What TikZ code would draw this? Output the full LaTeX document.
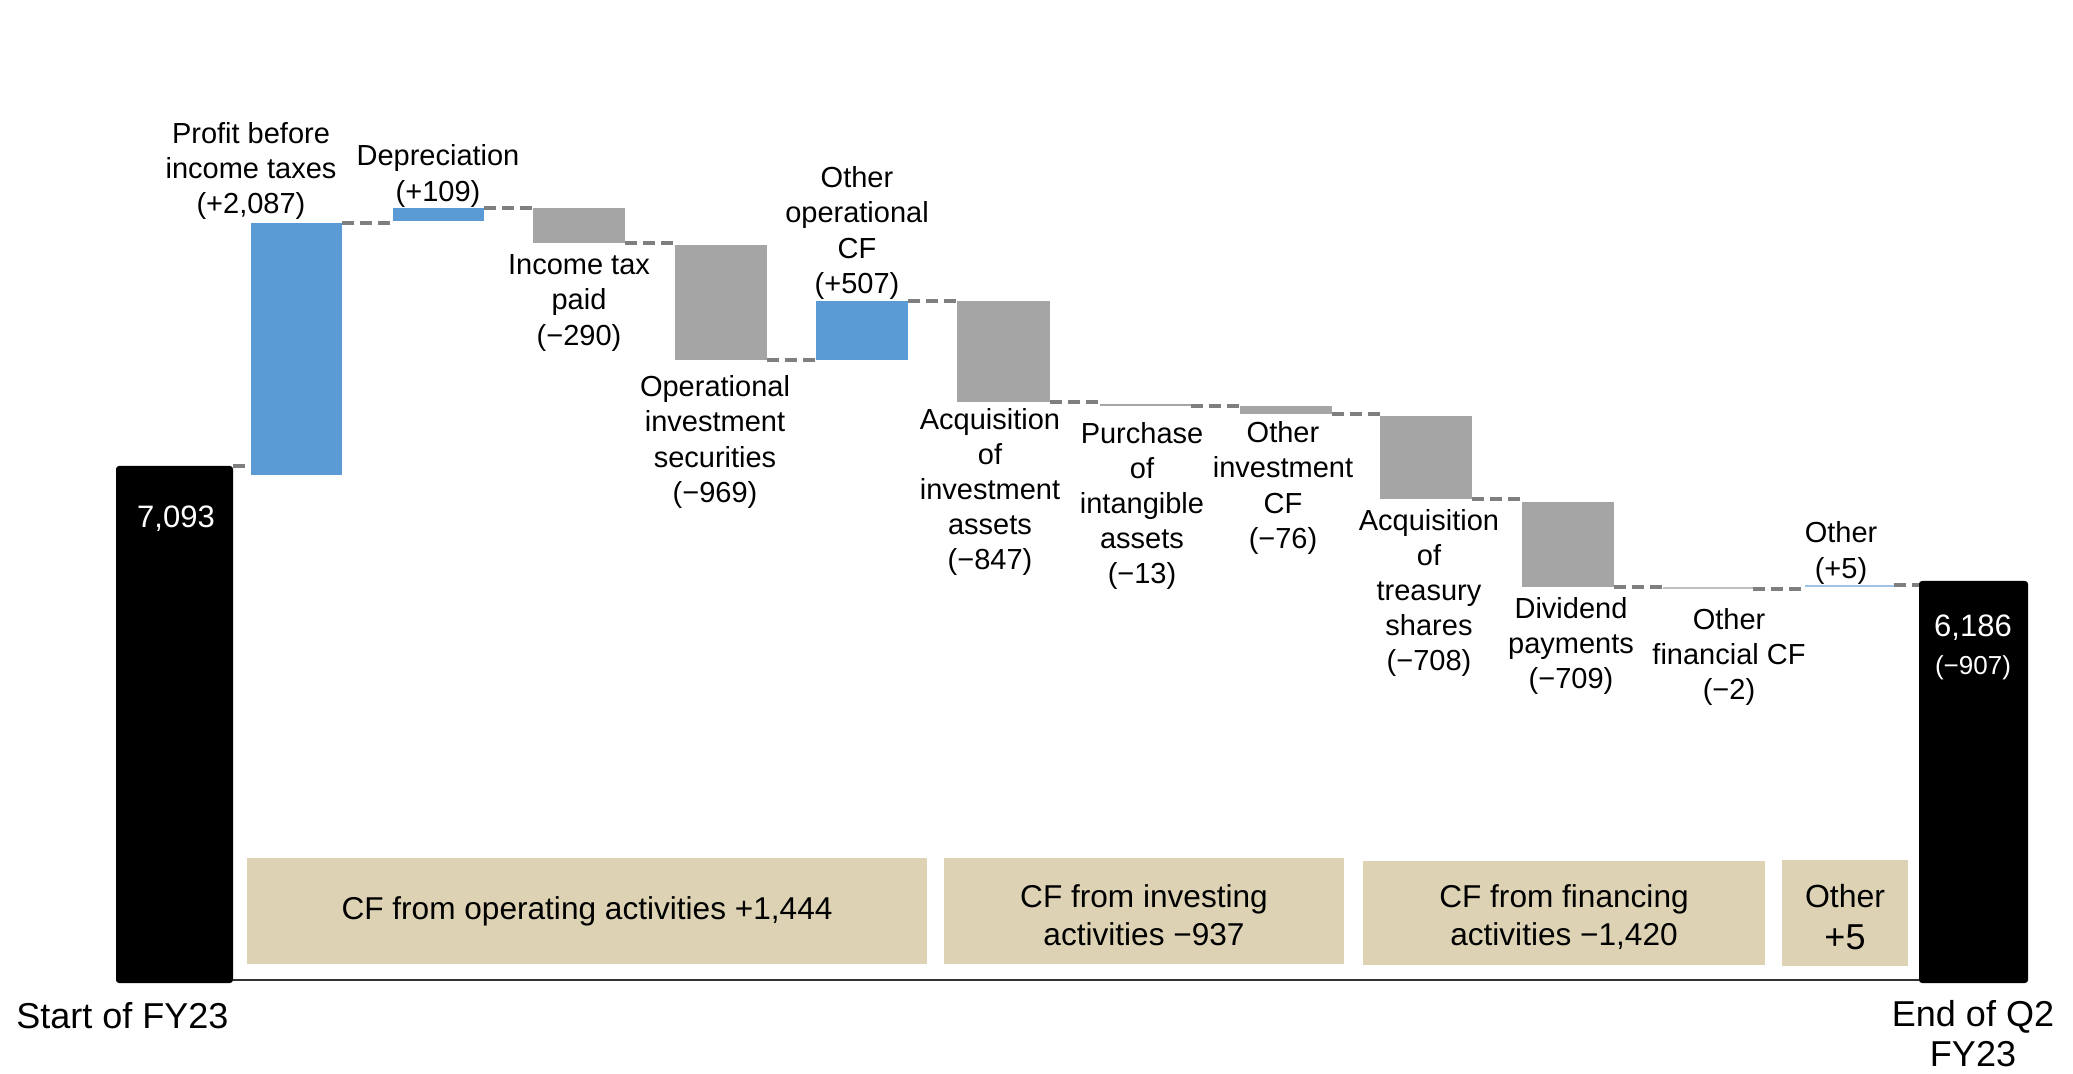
\documentclass[tikz,border=0pt]{standalone}
\usepackage{fontspec}
\setmainfont{Liberation Sans}
\usetikzlibrary{fit}
\definecolor{barblue}{HTML}{5B9BD5}
\definecolor{bargray}{HTML}{A5A5A5}
\definecolor{tanbox}{HTML}{DDD3B4}
\definecolor{dashgray}{HTML}{7F7F7F}
\definecolor{thinblue}{HTML}{9DC3E6}
\definecolor{thingray}{HTML}{BFBFBF}
\begin{document}
\begin{tikzpicture}[x=0.5pt,y=-0.5pt,
  wfbar/.style={inner sep=0pt, outer sep=0pt, draw=none},
  posbar/.style={wfbar, fill=barblue},
  negbar/.style={wfbar, fill=bargray},
  totbar/.style={wfbar, fill=black, rounded corners=1.5pt},
  link/.style={draw=dashgray, line width=1.7pt, dash pattern=on 6pt off 3pt},
  lbl/.style={font=\fontsize{14.5}{17.6}\selectfont, align=center, inner sep=0pt},
  totlbl/.style={font=\fontsize{15.5}{18}\selectfont, text=white, inner sep=0pt},
  catbox/.style={wfbar, fill=tanbox},
  cattext/.style={font=\fontsize{15.8}{19}\selectfont, align=center, inner sep=0pt},
  axislbl/.style={font=\fontsize{18}{19}\selectfont, align=center, inner sep=0pt},
]
\useasboundingbox (0,0) rectangle (2073,1074);
\fill[white] (0,0) rectangle (2073,1074);

% category boxes
\node[catbox, fit={(247,858) (927,964)}] (catop) {};
\node[catbox, fit={(944,858) (1344,964)}] (catinv) {};
\node[catbox, fit={(1363,861) (1765,965)}] (catfin) {};
\node[catbox, fit={(1782,860) (1908,966)}] (catoth) {};
\node[cattext] (tcatop) at (catop.center) {CF from operating activities +1,444};
\node[cattext] (tcatinv) at ([yshift=-2pt]catinv.center) {CF from investing\\activities −937};
\node[cattext] (tcatfin) at ([yshift=-2pt]catfin.center) {CF from financing\\activities −1,420};
\node[cattext] (tcatoth) at ([yshift=-2pt]catoth.center) {{\fontsize{16}{19}\selectfont Other}\\[2pt]{\fontsize{18}{19}\selectfont +5}};

% bars
\node[totbar, fit={(116,466) (233,983)}] (start) {};
\node[posbar, fit={(251,223) (342,475)}] (profit) {};
\node[posbar, fit={(393,208) (484,221)}] (dep) {};
\node[negbar, fit={(533,208) (625,243)}] (itax) {};
\node[negbar, fit={(675,245) (767,360)}] (opinv) {};
\node[posbar, fit={(816,301) (908,360)}] (othop) {};
\node[negbar, fit={(957,301) (1050,402)}] (acqinv) {};
\node[negbar, fit={(1100,404) (1191,406)}] (purch) {};
\node[negbar, fit={(1240,406) (1332,414)}] (othinv) {};
\node[negbar, fit={(1380,416) (1472,499)}] (acqtr) {};
\node[negbar, fit={(1522,502) (1614,587)}] (divid) {};
\node[wfbar, fill=thingray, fit={(1663,587) (1753,589)}] (othfin) {};
\node[wfbar, fill=thinblue, fit={(1805,585) (1894,587)}] (oth5) {};
\node[totbar, fit={(1919,581) (2028,983)}] (endb) {};

% axis
\coordinate (axisL) at (233,980);
\draw[line width=1.2pt, draw=black!80] (axisL) -- (axisL -| endb.west);

% dashed connectors
\draw[link] (start.north east) -- (start.north east -| profit.west);
\draw[link] (profit.north east) -- (profit.north east -| dep.west);
\draw[link] (dep.north east) -- (dep.north east -| itax.west);
\draw[link] (itax.south east) -- (itax.south east -| opinv.west);
\draw[link] (opinv.south east) -- (opinv.south east -| othop.west);
\draw[link] (othop.north east) -- (othop.north east -| acqinv.west);
\draw[link] (acqinv.south east) -- (acqinv.south east -| purch.west);
\draw[link] (purch.south east) -- (purch.south east -| othinv.west);
\draw[link] (othinv.south east) -- (othinv.south east -| acqtr.west);
\draw[link] (acqtr.south east) -- (acqtr.south east -| divid.west);
\draw[link] (divid.south east) -- (divid.south east -| othfin.west);
\draw[link] (othfin.south east) -- (othfin.south east -| oth5.west);
\draw[link] (oth5.north east) -- (oth5.north east -| endb.west);

% bar labels
\node[lbl] (lprofit) at (251,171) {Profit before\\income taxes\\(+2,087)};
\node[lbl] (ldep) at (438,176) {Depreciation\\(+109)};
\node[lbl] (litax) at (579,303) {Income tax\\paid\\(−290)};
\node[lbl] (lopinv) at (715,442) {Operational\\investment\\securities\\(−969)};
\node[lbl] (lothop) at (857,233) {Other\\operational\\CF\\(+507)};
\node[lbl] (lacqinv) at (990,492) {Acquisition\\of\\investment\\assets\\(−847)};
\node[lbl] (lpurch) at (1142,506) {Purchase\\of\\intangible\\assets\\(−13)};
\node[lbl] (lothinv) at (1283,488) {Other\\investment\\CF\\(−76)};
\node[lbl] (lacqtr) at (1429,593) {Acquisition\\of\\treasury\\shares\\(−708)};
\node[lbl] (ldiv) at (1571,646) {Dividend\\payments\\(−709)};
\node[lbl] (lothfin) at (1729,657) {Other\\financial CF\\(−2)};
\node[lbl] (loth5) at (1841,553) {Other\\(+5)};

% totals
\node[totlbl] (lstart) at (176,519) {7,093};
\node[totlbl] (lend) at (1973,628) {6,186};
\node[totlbl, font=\fontsize{13}{15}\selectfont] (lendd) at (1973,668) {(−907)};

% axis labels
\node[axislbl, anchor=west] (tstart) at (16,1016) {Start of FY23};
\node[axislbl, font=\fontsize{18}{20}\selectfont] (tend) at (1973,1034) {End of Q2\\FY23};
\end{tikzpicture}
\end{document}
